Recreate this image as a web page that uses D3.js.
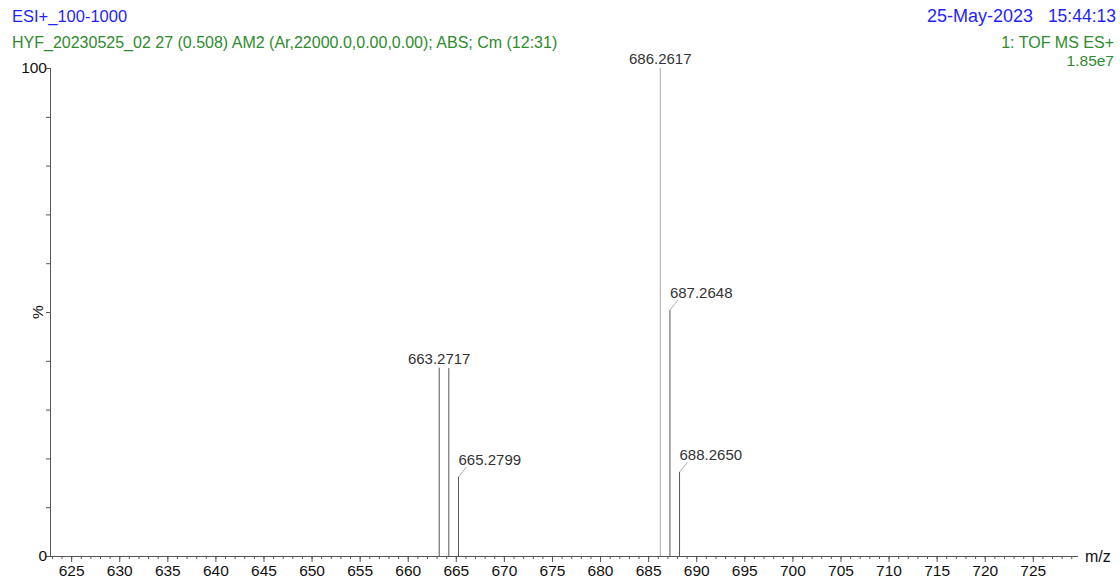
<!DOCTYPE html>
<html>
<head>
<meta charset="utf-8">
<script src="https://cdn.jsdelivr.net/npm/d3@7"></script>
<style>
  body { margin: 0; background: #fff; }
  svg { display: block; font-family: "Liberation Sans", Arial, sans-serif; }
</style>
</head>
<body>
<div id="chart-area"></div>
<script>
// Peak data
var peakMz = [663.2717, 664.2747, 665.2799, 686.2617, 687.2648, 688.2650];
var peakPct = [38.6, 38.5, 16.2, 100, 50.4, 17.2];
var peakLabel = ["663.2717", "", "665.2799", "686.2617", "687.2648", "688.2650"];
var labelLeader = [false, false, true, false, true, true];

var xTickValues = [625, 630, 635, 640, 645, 650, 655, 660, 665, 670, 675, 680, 685, 690, 695, 700, 705, 710, 715, 720, 725];
var yTickLabels = [0, 100];

var W = 1120, H = 582;
var svg = d3.select("#chart-area").append("svg")
	.attr("width", W)
	.attr("height", H);

// Header texts
svg.append("text").attr("x", 12).attr("y", 22)
	.attr("font-size", "16.5px").attr("fill", "#1f1fff")
	.text("ESI+_100-1000");
svg.append("text").attr("x", 12).attr("y", 48)
	.attr("font-size", "16px").attr("fill", "#2e8b2e")
	.text("HYF_20230525_02 27 (0.508) AM2 (Ar,22000.0,0.00,0.00); ABS; Cm (12:31)");
svg.append("text").attr("x", 1033).attr("y", 22)
	.attr("font-size", "18px").attr("fill", "#1f1fff")
	.attr("text-anchor", "end")
	.text("25-May-2023");
svg.append("text").attr("x", 1116).attr("y", 22)
	.attr("font-size", "17.5px").attr("fill", "#1f1fff")
	.attr("text-anchor", "end")
	.text("15:44:13");
svg.append("text").attr("x", 1114).attr("y", 48)
	.attr("font-size", "16px").attr("fill", "#2e8b2e")
	.attr("text-anchor", "end")
	.text("1: TOF MS ES+");
svg.append("text").attr("x", 1114).attr("y", 66)
	.attr("font-size", "15.5px").attr("fill", "#2e8b2e")
	.attr("text-anchor", "end")
	.text("1.85e7");

// Scales
var x = d3.scaleLinear().domain([622.8, 729.7]).range([50, 1078]);
var y = d3.scaleLinear().domain([0, 100]).range([556, 68]);

// X axis: minor ticks every 1, major every 5
var xAxis = d3.axisBottom(x)
	.tickValues(d3.range(623, 730, 1))
	.tickSize(3)
	.tickFormat("");
svg.append("g")
	.attr("transform", "translate(0," + y(0) + ")")
	.call(xAxis)
	.call(g => g.select(".domain").attr("stroke", "#555").attr("d", "M50,0.5H1078"))
	.call(g => g.selectAll(".tick line").attr("stroke", "#555"));

var xMajor = d3.axisBottom(x)
	.tickValues(xTickValues)
	.tickSize(6)
	.tickFormat(d3.format("d"));
svg.append("g")
	.attr("transform", "translate(0," + y(0) + ")")
	.call(xMajor)
	.call(g => g.select(".domain").remove())
	.call(g => g.selectAll(".tick line").attr("stroke", "#555"))
	.call(g => g.selectAll(".tick text")
		.attr("font-size", "15.5px")
		.attr("fill", "#111")
		.attr("font-family", "Liberation Sans, Arial, sans-serif")
		.attr("y", 9));

svg.append("text").attr("x", 1085).attr("y", 562)
	.attr("font-size", "16px").attr("fill", "#111")
	.text("m/z");

// Y axis
var yAxis = d3.axisLeft(y)
	.tickValues(d3.range(0, 101, 10))
	.tickSize(4)
	.tickFormat(d => yTickLabels.indexOf(d) >= 0 ? d : "");
svg.append("g")
	.attr("transform", "translate(50,0)")
	.call(yAxis)
	.call(g => g.select(".domain").attr("stroke", "#555").attr("d", "M0.5," + y(100) + "V" + (y(0) + 0.5)))
	.call(g => g.selectAll(".tick line").attr("stroke", "#555"))
	.call(g => g.selectAll(".tick text")
		.attr("font-size", "15.5px")
		.attr("fill", "#111")
		.attr("font-family", "Liberation Sans, Arial, sans-serif")
		.attr("x", -3));

svg.append("text")
	.attr("transform", "translate(43," + y(50) + ") rotate(-90)")
	.attr("text-anchor", "middle")
	.attr("font-size", "15.5px").attr("fill", "#111")
	.text("%");

// Peaks
var peaks = peakMz.map((m, i) => ({ mz: m, pct: peakPct[i], label: peakLabel[i], leader: labelLeader[i] }));

svg.selectAll("line.peak").data(peaks).enter()
	.append("line")
	.attr("class", "peak")
	.attr("x1", d => x(d.mz)).attr("x2", d => x(d.mz))
	.attr("y1", y(0)).attr("y2", d => y(d.pct))
	.attr("stroke", d => d.pct === 100 ? "#aaa" : "#555")
	.attr("stroke-width", 1);

var labelled = peaks.filter(d => d.label !== "");

svg.selectAll("line.leader").data(labelled.filter(d => d.leader)).enter()
	.append("line")
	.attr("class", "leader")
	.attr("x1", d => x(d.mz)).attr("y1", d => y(d.pct))
	.attr("x2", d => x(d.mz) + 8).attr("y2", d => y(d.pct) - 10)
	.attr("stroke", "#999")
	.attr("stroke-width", 0.8);

svg.selectAll("text.peak-label").data(labelled).enter()
	.append("text")
	.attr("class", "peak-label")
	.attr("x", d => x(d.mz))
	.attr("y", d => d.leader ? y(d.pct) - 12 : y(d.pct) - 4)
	.attr("text-anchor", d => d.leader ? "start" : "middle")
	.attr("font-size", "15px")
	.attr("fill", "#333")
	.text(d => d.label);
</script>
</body>
</html>
